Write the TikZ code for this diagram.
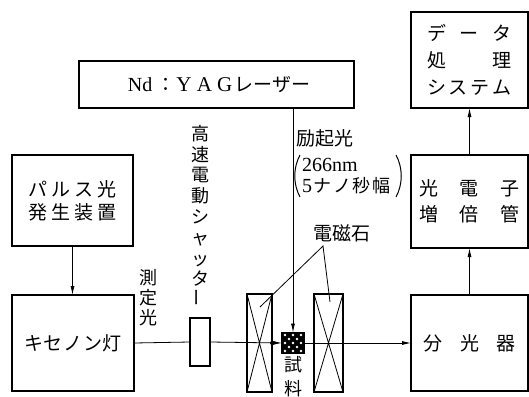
\documentclass[tikz,border=0pt]{standalone}
\usepackage{fontspec}
\setmainfont{Liberation Serif}
\newfontfamily\jp{Noto Sans CJK JP}
\usetikzlibrary{arrows.meta}
\begin{document}
\begin{tikzpicture}[x=1pt,y=-1pt,
  box/.style={draw, line width=1.5pt, rectangle, inner sep=0pt, outer sep=0pt},
  thinline/.style={line width=0.8pt},
  arr/.style={line width=0.8pt, -{Latex[length=9pt,width=4pt]}},
  jtext/.style={font=\jp\fontsize{19}{23}\selectfont, align=center, inner sep=0pt},
]
\useasboundingbox (0,0) rectangle (529,396);
\clip (0,0) rectangle (529,396);
\fill[white] (0,0) rectangle (529,396);

% boxes
\node[box, jtext, font=\jp\fontsize{19}{27}\selectfont, minimum width=117pt, minimum height=96pt] (data) at (469.5,60)
  {\makebox[85pt][s]{デ\hfill ー\hfill タ}\\\makebox[85pt][s]{処\hfill 理}\\\makebox[85pt][s]{シ\hfill ス\hfill テ\hfill ム}};
\node[box, minimum width=275pt, minimum height=47pt] (yag) at (216.5,84.5) {};
\node[jtext] (yagtext) at (219,85)
  {{\rmfamily\fontsize{20}{20}\selectfont Nd}\hspace{4pt}：\hspace{1pt}\makebox[56pt][s]{\rmfamily\fontsize{21}{21}\selectfont Y\hfill A\hfill G}\hspace{2pt}レーザー};
\node[box, jtext, minimum width=121pt, minimum height=91pt] (pulse) at (72.5,200.5)
  {\makebox[88pt][s]{パ\hfill ル\hfill ス\hfill 光}\\\makebox[88pt][s]{発\hfill 生\hfill 装\hfill 置}};
\node[box, jtext, font=\jp\fontsize{19}{26}\selectfont, minimum width=117pt, minimum height=93pt] (pmt) at (469.5,201.5)
  {\makebox[100pt][s]{光\hfill 電\hfill 子}\\\makebox[100pt][s]{増\hfill 倍\hfill 管}};
\node[box, jtext, minimum width=122pt, minimum height=96pt] (xenon) at (73,343)
  {\makebox[98pt][s]{キ\hfill セ\hfill ノ\hfill ン\hfill 灯}};
\node[box, jtext, minimum width=117pt, minimum height=96pt] (spec) at (469.5,343)
  {\makebox[93pt][s]{分\hfill 光\hfill 器}};
\node[box, minimum width=20pt, minimum height=48pt] (shutter) at (200,342) {};
\node[box, minimum width=25pt, minimum height=98pt] (mag1) at (259.5,343) {};
\node[box, minimum width=29pt, minimum height=98pt] (mag2) at (328.5,343) {};
\draw[thinline] (mag1.north west) -- (mag1.south east) (mag1.north east) -- (mag1.south west);
\draw[thinline] (mag2.north west) -- (mag2.south east) (mag2.north east) -- (mag2.south west);

% sample
\node[box, fill=black, minimum width=22pt, minimum height=21pt] (sample) at (293,343) {};
\foreach \i in {0,...,4}{\foreach \j in {0,...,4}{
  \pgfmathtruncatemacro\s{mod(\i+\j,2)}
  \ifnum\s=0 \fill[white] (285+4*\i,335+4*\j) circle (1.3pt);\fi
}}

% beam
\draw[thinline] (xenon.east) -- (shutter.west);
\draw[arr] (shutter.east) -- (sample.west);
\fill (mag1.east |- sample.west) circle (2pt);
\draw[arr] (sample.east) -- (spec.west);
\draw[arr] (yag.south -| sample.north) -- (sample.north);

% signal connectors
\draw[arr] (pulse.south) -- (pulse.south |- xenon.north);
\draw[arr] (spec.north) -- (pmt.south);
\draw[arr] (pmt.north) -- (data.south);

% labels
\node[jtext, font=\jp\fontsize{18}{20.8}\selectfont] (shlabel) at (200,216)
  {高\\速\\電\\動\\シ\\ャ\\ッ\\タ\\\rotatebox{90}{ー}};
\node[jtext, font=\jp\fontsize{18}{20}\selectfont] (meas) at (148,298) {測\\定\\光};
\node[jtext, font=\jp\fontsize{18}{24}\selectfont, anchor=north] (samplelabel) at (293,356) {試\\料};
\node[jtext, anchor=west] (excite) at (296,138) {励起光};
\node[jtext, font=\jp\fontsize{18}{21}\selectfont, align=left, anchor=west] (exciteinfo) at (302,176)
  {{\rmfamily\fontsize{20}{21}\selectfont 266nm}\\\makebox[88pt][s]{{\rmfamily\fontsize{20}{21}\selectfont 5}\hfill ナ\hfill ノ\hfill 秒\hfill 幅}};
\draw[line width=1pt] (300,155) .. controls (293,168) and (293,184) .. (300,197);
\draw[line width=1pt] (396,155) .. controls (403,168) and (403,184) .. (396,197);
\node[jtext] (maglabel) at (342,233) {電磁石};
\coordinate (lead) at (323,246);
\coordinate (m1p) at (260,307);
\coordinate (m2p) at (330,302);
\draw[thinline] (m1p) -- (lead) -- (m2p);
\end{tikzpicture}
\end{document}
